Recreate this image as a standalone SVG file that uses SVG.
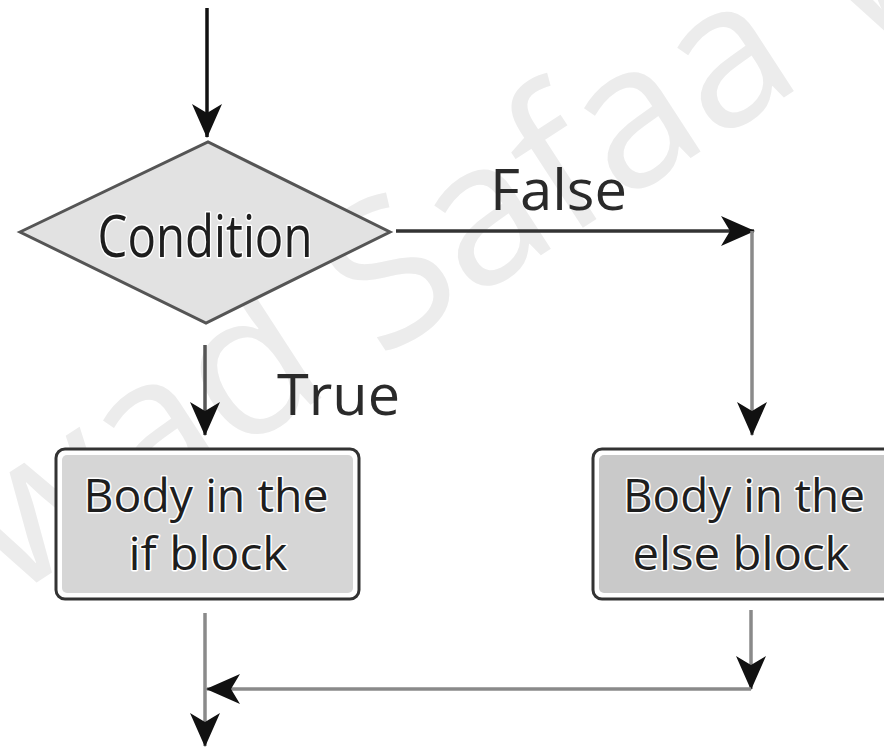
<svg xmlns="http://www.w3.org/2000/svg" width="884" height="747" viewBox="0 0 884 747">
<defs>
<style>
.lbl{font-family:"Open Sans","Liberation Sans",sans-serif;fill:#1e1e1e;paint-order:stroke;stroke:#fff;stroke-width:3px;stroke-linejoin:round;}
.edge{font-family:"Open Sans","Liberation Sans",sans-serif;fill:#2a2a2a;}
.wm{font-family:"Open Sans","Liberation Sans",sans-serif;fill:#ececec;font-size:200px;}
.ln{fill:none;stroke-width:3.5;}
</style>
<marker id="ah" viewBox="0 0 34 30" refX="33" refY="15" markerWidth="34" markerHeight="30" markerUnits="userSpaceOnUse" orient="auto">
<path d="M0,0 L34,15 L0,30 L9,15 z" fill="#111"/>
</marker>
</defs>
<rect width="884" height="747" fill="#fff"/>
<text class="wm" transform="translate(10,600) rotate(-33)">wad Safaa W</text>
<g id="connectors">
<line class="ln" x1="207" y1="8" x2="207" y2="137" stroke="#111" marker-end="url(#ah)"/>
<line class="ln" x1="396" y1="231" x2="754" y2="231" stroke="#333" marker-end="url(#ah)"/>
<line class="ln" x1="752" y1="231" x2="752" y2="435" stroke="#8a8a8a" marker-end="url(#ah)"/>
<line class="ln" x1="205" y1="345" x2="205" y2="435" stroke="#555" marker-end="url(#ah)"/>
<line class="ln" x1="205" y1="613" x2="205" y2="746" stroke="#8a8a8a" marker-end="url(#ah)"/>
<line class="ln" x1="751" y1="610" x2="751" y2="689" stroke="#8a8a8a" marker-end="url(#ah)"/>
<line class="ln" x1="751" y1="689" x2="207" y2="689" stroke="#8a8a8a" marker-end="url(#ah)"/>
<text class="edge" x="490" y="210" font-size="57" textLength="137" lengthAdjust="spacingAndGlyphs">False</text>
<text class="edge" x="277" y="415" font-size="56" textLength="123" lengthAdjust="spacingAndGlyphs" fill="#333">True</text>
</g>
<g id="condition">
<polygon points="20,232 208,142 390,232 206,323" fill="#e2e2e2" stroke="#555" stroke-width="3"/>
<text class="lbl" x="205" y="257" font-size="58" text-anchor="middle" textLength="215" lengthAdjust="spacingAndGlyphs">Condition</text>
</g>
<g id="if-block">
<rect x="56" y="449" width="303" height="150" rx="9" fill="#fff" stroke="#333" stroke-width="3"/>
<rect x="62" y="455" width="291" height="138" rx="5" fill="#d6d6d6"/>
<text class="lbl" x="206" y="512" font-size="46" text-anchor="middle" textLength="245" lengthAdjust="spacingAndGlyphs">Body in the</text>
<text class="lbl" x="208" y="570" font-size="46" text-anchor="middle" textLength="159" lengthAdjust="spacingAndGlyphs">if block</text>
</g>
<g id="else-block">
<rect x="593" y="449" width="310" height="150" rx="9" fill="#fff" stroke="#333" stroke-width="3"/>
<rect x="599" y="455" width="298" height="138" rx="5" fill="#c9c9c9"/>
<text class="lbl" x="744" y="512" font-size="46" text-anchor="middle" textLength="242" lengthAdjust="spacingAndGlyphs">Body in the</text>
<text class="lbl" x="741" y="570" font-size="46" text-anchor="middle" textLength="217" lengthAdjust="spacingAndGlyphs">else block</text>
</g>
</svg>
